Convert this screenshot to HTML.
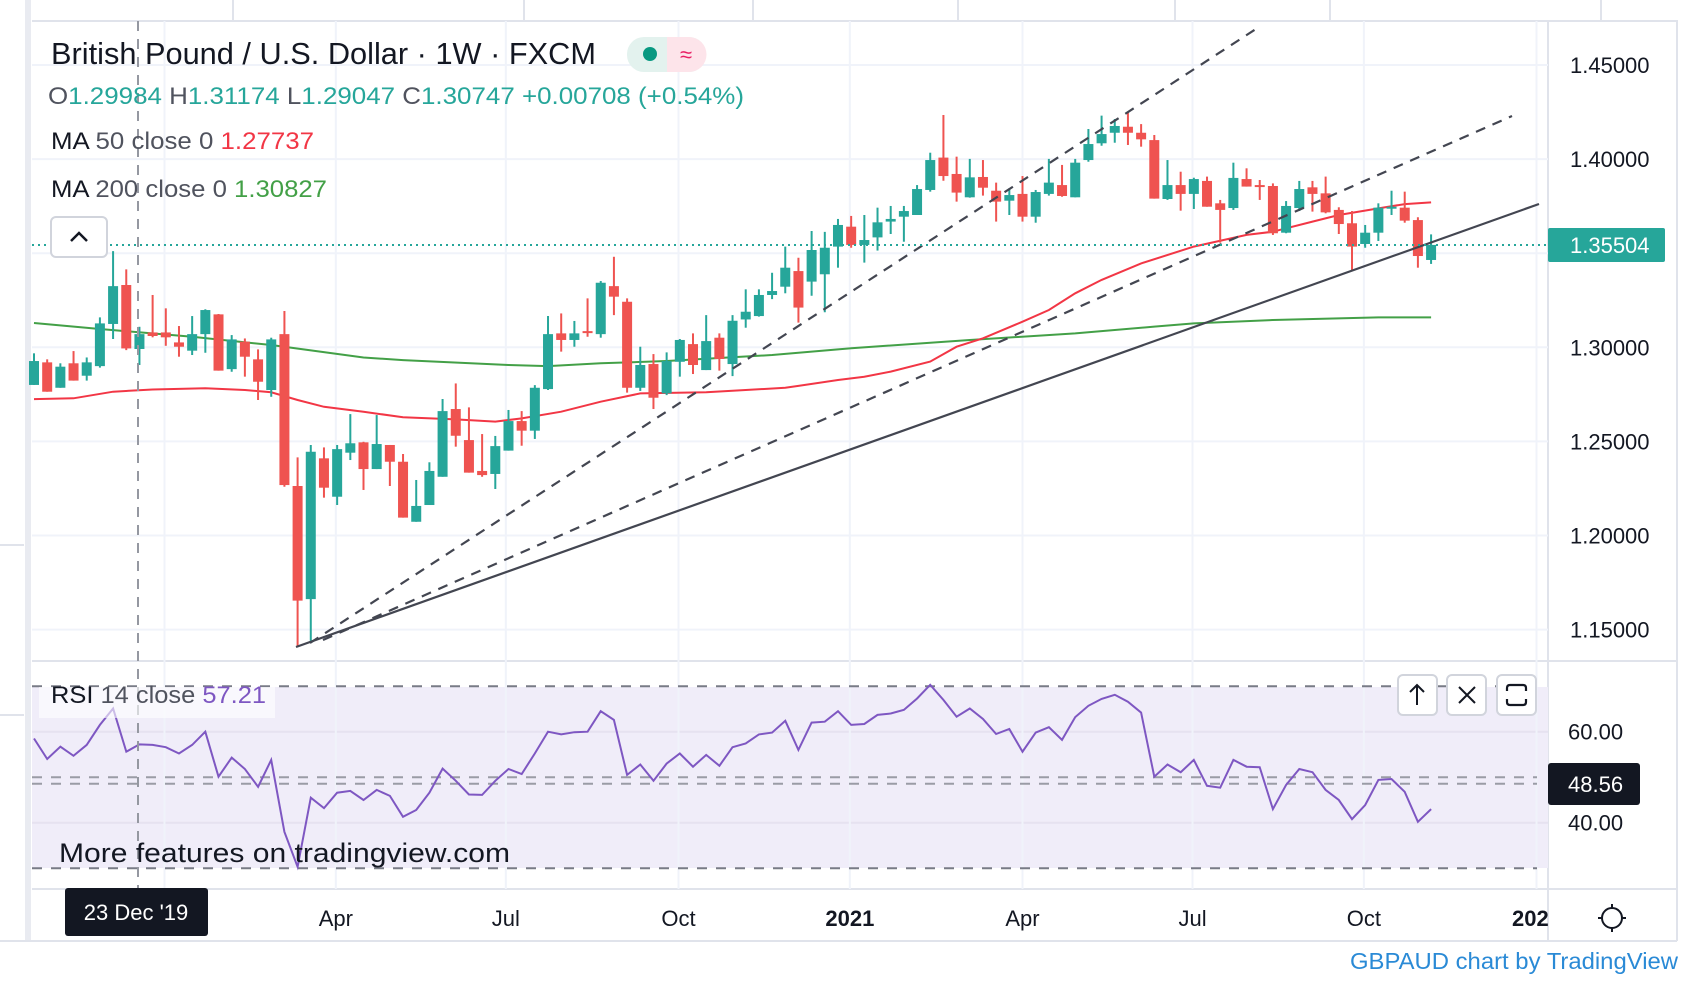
<!DOCTYPE html>
<html><head><meta charset="utf-8"><title>GBPUSD 1W</title>
<style>
html,body{margin:0;padding:0;background:#fff;}
svg{display:block;font-family:"Liberation Sans",sans-serif;}
</style></head>
<body>
<svg id="chart" width="1684" height="990" viewBox="0 0 1684 990" xmlns="http://www.w3.org/2000/svg">
  <rect x="0" y="0" width="1684" height="990" fill="#ffffff"/>
  <g stroke="#e0e3eb" stroke-width="2">
    <line x1="32" y1="21" x2="1678" y2="21"/>
    <line x1="233" y1="0" x2="233" y2="21"/><line x1="524" y1="0" x2="524" y2="21"/>
    <line x1="753" y1="0" x2="753" y2="21"/><line x1="958" y1="0" x2="958" y2="21"/>
    <line x1="1175" y1="0" x2="1175" y2="21"/><line x1="1330" y1="0" x2="1330" y2="21"/>
    <line x1="1601" y1="0" x2="1601" y2="21"/>
  </g>
  <rect x="25" y="0" width="6" height="941" fill="#e9ebf1"/>
  <line x1="0" y1="545" x2="24" y2="545" stroke="#e0e3eb" stroke-width="2"/>
  <line x1="0" y1="715" x2="24" y2="715" stroke="#e0e3eb" stroke-width="2"/>
  <line x1="1548" y1="21" x2="1548" y2="941" stroke="#e0e3eb" stroke-width="2"/>
  <line x1="1677" y1="21" x2="1677" y2="941" stroke="#e0e3eb" stroke-width="2"/>
  <line x1="32" y1="661" x2="1677" y2="661" stroke="#e0e3eb" stroke-width="2"/>
  <line x1="32" y1="889" x2="1677" y2="889" stroke="#e0e3eb" stroke-width="2"/>
  <line x1="0" y1="941" x2="1677" y2="941" stroke="#e0e3eb" stroke-width="2"/>
  <rect x="32" y="687" width="1516" height="181" fill="#f0edf9"/>
  <g id="grid"></g>
  <g id="rsi-layer"></g>
  <g id="ma-layer"></g>
  <g id="candle-layer"></g>
  <g stroke="#434651" stroke-width="2.2" fill="none">
    <line x1="296" y1="647" x2="1539" y2="204"/>
    <line x1="310" y1="643" x2="1259" y2="27" stroke-dasharray="10,8"/>
    <line x1="323" y1="640" x2="1512" y2="116" stroke-dasharray="10,8"/>
  </g>
  <line x1="138" y1="21" x2="138" y2="889" stroke="#9598a1" stroke-width="2" stroke-dasharray="10,8"/>
  <g id="axis-layer"></g>
  <line x1="32" y1="245" x2="1548" y2="245" stroke="#26a69a" stroke-width="2" stroke-dasharray="2,4"/>
  <rect x="1548" y="228" width="117" height="34" rx="2" fill="#26a69a"/>
  <text x="1570" y="253" font-size="22" fill="#ffffff">1.35504</text>
  <text x="51" y="64" font-size="31" fill="#131722" textLength="545" lengthAdjust="spacingAndGlyphs">British Pound / U.S. Dollar · 1W · FXCM</text>
  <g>
    <rect x="627" y="37" width="79" height="35" rx="17" fill="#e3f2ee"/>
    <path d="M667 37 H689 A17 17 0 0 1 689 72 H667 Z" fill="#fde4ea"/>
    <circle cx="650" cy="54" r="7" fill="#089981"/>
    <text x="686" y="62" font-size="22" fill="#e91e63" text-anchor="middle">≈</text>
  </g>
  <text x="48" y="104" font-size="24" fill="#26a69a" textLength="696" lengthAdjust="spacingAndGlyphs"><tspan fill="#50535e">O</tspan>1.29984 <tspan fill="#50535e">H</tspan>1.31174 <tspan fill="#50535e">L</tspan>1.29047 <tspan fill="#50535e">C</tspan>1.30747 +0.00708 (+0.54%)</text>
  <text x="51" y="149" font-size="24" fill="#50535e" textLength="263" lengthAdjust="spacingAndGlyphs"><tspan fill="#131722">MA</tspan> 50 close 0  <tspan fill="#f23645">1.27737</tspan></text>
  <text x="51" y="197" font-size="24" fill="#50535e" textLength="276" lengthAdjust="spacingAndGlyphs"><tspan fill="#131722">MA</tspan> 200 close 0  <tspan fill="#43a047">1.30827</tspan></text>
  <g>
    <rect x="51" y="217" width="56" height="40" rx="5" fill="#ffffff" stroke="#d1d4dc" stroke-width="2"/>
    <path d="M71 241 L79 233 L87 241" fill="none" stroke="#131722" stroke-width="2.5"/>
  </g>
  <rect x="39" y="687" width="236" height="31" fill="#ffffff" opacity="0.6"/>
  <text x="51" y="703" font-size="24" fill="#50535e" textLength="215" lengthAdjust="spacingAndGlyphs"><tspan fill="#131722">RSI</tspan> 14 close  <tspan fill="#7e57c2">57.21</tspan></text>
  <text x="59" y="862" font-size="27" fill="#131722" textLength="451" lengthAdjust="spacingAndGlyphs">More features on tradingview.com</text>
  <g>
    <rect x="1398" y="675" width="39" height="40" rx="5" fill="#ffffff" stroke="#d1d4dc" stroke-width="2"/>
    <path d="M1417 705 V685 M1410 692 L1417 685 L1424 692" fill="none" stroke="#131722" stroke-width="2"/>
  </g>
  <g>
    <rect x="1447" y="675" width="39" height="40" rx="5" fill="#ffffff" stroke="#d1d4dc" stroke-width="2"/>
    <path d="M1459 687 L1475 703 M1475 687 L1459 703" fill="none" stroke="#131722" stroke-width="2"/>
  </g>
  <g>
    <rect x="1497" y="675" width="39" height="40" rx="5" fill="#ffffff" stroke="#d1d4dc" stroke-width="2"/>
    <path d="M1507 691 V688 Q1507 685 1510 685 H1523 Q1526 685 1526 688 V691 M1507 699 V702 Q1507 705 1510 705 H1523 Q1526 705 1526 702 V699" fill="none" stroke="#131722" stroke-width="2.2"/>
  </g>
  <rect x="1548" y="763" width="92" height="42" rx="3" fill="#131722"/>
  <text x="1568" y="792" font-size="22" fill="#ffffff">48.56</text>
  <rect x="65" y="888" width="143" height="48" rx="3" fill="#131722"/>
  <text x="136" y="920" font-size="22" fill="#ffffff" text-anchor="middle">23 Dec '19</text>
  <g stroke="#131722" stroke-width="2" fill="none">
    <circle cx="1612" cy="918" r="10"/>
    <path d="M1612 904 V908 M1612 928 V932 M1598 918 H1602 M1622 918 H1626"/>
  </g>
  <text x="1678" y="969" font-size="23" fill="#2a8ad6" text-anchor="end" textLength="328" lengthAdjust="spacingAndGlyphs">GBPAUD chart by TradingView</text>
</svg>
<script>
const opens  = [1.2800,1.2920,1.2785,1.2915,1.2849,1.2900,1.3124,1.3331,1.2991,1.3079,1.3079,1.3026,1.2982,1.3070,1.3175,1.2884,1.3030,1.2936,1.2773,1.3070,1.2263,1.1662,1.2410,1.2206,1.2440,1.2495,1.2353,1.2481,1.2392,1.2073,1.2162,1.2312,1.2672,1.2507,1.2343,1.2327,1.2451,1.2608,1.2557,1.2778,1.3074,1.3039,1.3086,1.3070,1.3325,1.3242,1.2785,1.2911,1.2755,1.2923,1.3017,1.2879,1.3051,1.2911,1.3148,1.3166,1.3278,1.3322,1.3405,1.3349,1.3388,1.3535,1.3641,1.3544,1.3584,1.3668,1.3694,1.3703,1.3836,1.4008,1.3921,1.3797,1.3905,1.3832,1.3779,1.3815,1.3694,1.3815,1.3862,1.3797,1.3995,1.4084,1.4140,1.4172,1.4140,1.4101,1.3788,1.3862,1.3815,1.3884,1.3765,1.3740,1.3894,1.3862,1.3857,1.3609,1.3740,1.3850,1.3818,1.3730,1.3659,1.3549,1.3609,1.3737,1.3742,1.3676,1.3464];
const highs  = [1.2968,1.2936,1.2915,1.2980,1.2946,1.3159,1.3511,1.3414,1.3109,1.3278,1.3207,1.3113,1.3166,1.3202,1.3177,1.3065,1.3047,1.2989,1.3051,1.3193,1.2415,1.2481,1.2468,1.2481,1.2645,1.2498,1.2640,1.2481,1.2433,1.2295,1.2389,1.2725,1.2808,1.2681,1.2539,1.2529,1.2667,1.2661,1.2799,1.3166,1.3180,1.3140,1.3260,1.3352,1.3481,1.3260,1.3003,1.2964,1.2973,1.3044,1.3074,1.3171,1.3074,1.3171,1.3308,1.3308,1.3396,1.3535,1.3476,1.3618,1.3613,1.3682,1.3698,1.3703,1.3742,1.3751,1.3751,1.3862,1.4034,1.4234,1.4013,1.4001,1.3995,1.3875,1.3845,1.3910,1.3836,1.4001,1.3969,1.4001,1.4160,1.4231,1.4213,1.4247,1.4186,1.4128,1.3995,1.3933,1.3901,1.3907,1.3783,1.3981,1.3951,1.3889,1.3871,1.3777,1.3884,1.3884,1.3907,1.3744,1.3724,1.3650,1.3765,1.3832,1.3827,1.3691,1.3600];
const lows   = [1.2800,1.2764,1.2785,1.2823,1.2823,1.2892,1.3044,1.2985,1.2906,1.3053,1.3008,1.2950,1.2959,1.2971,1.2876,1.2870,1.2844,1.2720,1.2737,1.2259,1.1409,1.1441,1.2201,1.2162,1.2401,1.2242,1.2353,1.2263,1.2095,1.2073,1.2162,1.2312,1.2472,1.2334,1.2312,1.2247,1.2451,1.2477,1.2513,1.2773,1.2977,1.3003,1.3056,1.3051,1.3171,1.2759,1.2768,1.2672,1.2746,1.2844,1.2858,1.2879,1.2876,1.2847,1.3104,1.3163,1.3256,1.3287,1.3131,1.3274,1.3186,1.3423,1.3529,1.3450,1.3514,1.3602,1.3561,1.3703,1.3827,1.3885,1.3774,1.3795,1.3806,1.3668,1.3703,1.3668,1.3662,1.3806,1.3800,1.3797,1.3986,1.4071,1.4087,1.4075,1.4066,1.3790,1.3783,1.3726,1.3735,1.3747,1.3556,1.3730,1.3854,1.3783,1.3597,1.3606,1.3724,1.3721,1.3712,1.3602,1.3407,1.3529,1.3565,1.3703,1.3662,1.3423,1.3443];
const closes = [1.2927,1.2764,1.2897,1.2823,1.2920,1.3127,1.3325,1.2994,1.3070,1.3060,1.3053,1.3003,1.3070,1.3198,1.2876,1.3042,1.2950,1.2817,1.3042,1.2268,1.1654,1.2445,1.2254,1.2459,1.2490,1.2353,1.2486,1.2392,1.2095,1.2157,1.2343,1.2661,1.2530,1.2334,1.2321,1.2475,1.2608,1.2557,1.2785,1.3070,1.3039,1.3074,1.3079,1.3343,1.3269,1.2785,1.2906,1.2732,1.2927,1.3039,1.2906,1.3033,1.2938,1.3141,1.3189,1.3278,1.3299,1.3423,1.3211,1.3517,1.3529,1.3650,1.3544,1.3570,1.3664,1.3682,1.3724,1.3841,1.3995,1.3910,1.3822,1.3903,1.3848,1.3774,1.3809,1.3694,1.3825,1.3875,1.3804,1.3981,1.4080,1.4133,1.4176,1.4140,1.4105,1.3790,1.3862,1.3815,1.3894,1.3747,1.3730,1.3900,1.3854,1.3854,1.3606,1.3751,1.3841,1.3815,1.3717,1.3655,1.3535,1.3609,1.3742,1.3747,1.3673,1.3485,1.3544];
const ma50Idx  = [1,4,7,10,14,17,19,21,23,26,29,33,36,38,41,44,47,52,55,58,59,62,64,66,69,71,73,76,78,80,82,85,89,93,95,98,100,103,105,107];
const ma50Val  = [1.2725,1.2729,1.2764,1.2776,1.2782,1.2773,1.2761,1.2720,1.2684,1.2658,1.2628,1.2617,1.2605,1.2622,1.2658,1.2711,1.2755,1.2761,1.2773,1.2785,1.2795,1.2826,1.2844,1.2871,1.2924,1.3003,1.3048,1.3136,1.3198,1.3287,1.3358,1.3446,1.3535,1.3597,1.3614,1.3668,1.3703,1.3738,1.3761,1.3770];
const ma200Idx = [1,6,13,19,26,29,37,40,44,49,57,63,72,80,86,89,95,103,107];
const ma200Val = [1.3129,1.3097,1.3056,1.3012,1.2946,1.2932,1.2906,1.2900,1.2915,1.2927,1.2959,1.2995,1.3039,1.3074,1.3110,1.3127,1.3145,1.3159,1.3159];
const rsiVals = [58.5,54.0,56.7,54.7,57.1,61.5,65.1,55.6,57.2,57.1,56.6,55.2,57.1,60.0,50.1,54.3,51.8,47.9,53.8,38.0,30.3,45.5,43.2,46.6,47.0,45.0,47.2,45.9,41.3,42.8,46.6,51.9,49.2,46.2,46.1,49.2,51.8,50.7,55.2,60.0,59.4,59.9,60.0,64.5,62.6,50.5,52.8,49.2,53.0,55.2,52.3,54.9,52.5,56.6,57.4,59.4,59.8,62.4,56.0,62.0,62.2,64.5,61.5,61.7,63.7,64.0,64.8,67.3,70.3,67.0,63.3,65.1,62.8,59.5,60.6,55.6,59.8,61.0,58.2,63.2,65.7,67.2,68.1,66.6,64.2,50.1,52.8,51.1,53.8,48.1,47.7,53.8,52.3,52.2,43.0,48.3,51.8,51.1,47.2,45.0,40.8,43.9,49.4,49.6,46.8,40.2,43.0];
const priceTicks = [1.15,1.20,1.25,1.30,1.35,1.40,1.45];
const priceTickLabels = ["1.15000","1.20000","1.25000","1.30000","1.35000","1.40000","1.45000"];
const rsiGrid = [40,60];
const rsiTickLabels = ["40.00","60.00"];
const rsiBands = [70,50,48.56,30];
const timeGridIdx = [10.9,23.9,36.8,49.9,62.9,76.0,88.9,101.9,115.0];
const timeLabelIdx = [23.9,36.8,49.9,62.9,76.0,88.9,101.9,115.0];
const timeLabels = ["Apr","Jul","Oct","2021","Apr","Jul","Oct","2022"];
const timeLabelBold = [false,false,false,true,false,false,false,true];

const NS = 'http://www.w3.org/2000/svg';
function xScale(i){ return 34 + (i - 1) * 13.18; }
function yPrice(p){ return 347.3 - (p - 1.30) * 1882; }
function yRsi(r){ return 822.7 - (r - 40) * 4.55; }
function mk(tag, attrs, parent){
  const e = document.createElementNS(NS, tag);
  for (const k in attrs) e.setAttribute(k, attrs[k]);
  parent.appendChild(e);
  return e;
}
const grid = document.getElementById('grid');
const axis = document.getElementById('axis-layer');
const rsiL = document.getElementById('rsi-layer');
const maL = document.getElementById('ma-layer');
const cL = document.getElementById('candle-layer');

priceTicks.forEach((p, k) => {
  const y = yPrice(p);
  const g = mk('line', {x1: 32, y1: y, x2: 1548, y2: y, stroke: '#f0f3fa', 'stroke-width': 2}, grid);
  
  
  const t = mk('text', {x: 1570, y: y + 8, 'font-size': 22, fill: '#131722'}, axis);
  t.textContent = priceTickLabels[k];
  
  
});
rsiGrid.forEach((r, k) => {
  const y = yRsi(r);
  const g = mk('line', {x1: 32, y1: y, x2: 1548, y2: y, stroke: '#e6e2f0', 'stroke-width': 2}, grid);
  
  
  const t = mk('text', {x: 1568, y: y + 8, 'font-size': 22, fill: '#131722'}, axis);
  t.textContent = rsiTickLabels[k];
  
  
});
timeGridIdx.forEach(i => {
  const x = xScale(i);
  const g = mk('line', {x1: x, y1: 21, x2: x, y2: 889, stroke: '#f0f3fa', 'stroke-width': 2}, grid);
  
  
});
const clip = mk('clipPath', {id: 'timeclip'}, axis);
mk('rect', {x: 32, y: 889, width: 1516, height: 52}, clip);
timeLabelIdx.forEach((i, k) => {
  const t = mk('text', {x: xScale(i), y: 926, 'font-size': 22, fill: '#131722', 'text-anchor': 'middle', 'font-weight': timeLabelBold[k] ? 'bold' : 'normal', 'clip-path': 'url(#timeclip)'}, axis);
  t.textContent = timeLabels[k];
  
  
});

rsiBands.forEach((r, k) => {
  const y = yRsi(r);
  const l = mk('line', {x1: 32, y1: y, x2: 1537, y2: y, stroke: (k === 0 || k === 3) ? '#787b86' : '#9a9ca6', 'stroke-width': 2, 'stroke-dasharray': '10,9'}, rsiL);
  
  
});
const rsiPts = rsiVals.map((v, k) => xScale(k + 1).toFixed(1) + ',' + yRsi(v).toFixed(1)).join(' ');
const rsiLine = mk('polyline', {points: rsiPts, fill: 'none', stroke: '#7e57c2', 'stroke-width': 2}, rsiL);



const ma200 = mk('polyline', {points: ma200Idx.map((i, k) => xScale(i).toFixed(1) + ',' + yPrice(ma200Val[k]).toFixed(1)).join(' '), fill: 'none', stroke: '#43a047', 'stroke-width': 2}, maL);


const ma50 = mk('polyline', {points: ma50Idx.map((i, k) => xScale(i).toFixed(1) + ',' + yPrice(ma50Val[k]).toFixed(1)).join(' '), fill: 'none', stroke: '#f23645', 'stroke-width': 2}, maL);



opens.forEach((o, k) => {
  const c = closes[k], h = highs[k], l = lows[k];
  const x = xScale(k + 1);
  const up = c >= o;
  const col = up ? '#26a69a' : '#ef5350';
  const g = mk('g', {}, cL);
  
  
  const w = mk('line', {x1: x, y1: yPrice(h), x2: x, y2: yPrice(l), stroke: col, 'stroke-width': 2}, g);
  
  
  const top = yPrice(Math.max(o, c)), bot = yPrice(Math.min(o, c));
  const b = mk('rect', {x: x - 5, y: top, width: 10, height: Math.max(2, bot - top), fill: col}, g);
  
  
});
</script>
</body></html>
